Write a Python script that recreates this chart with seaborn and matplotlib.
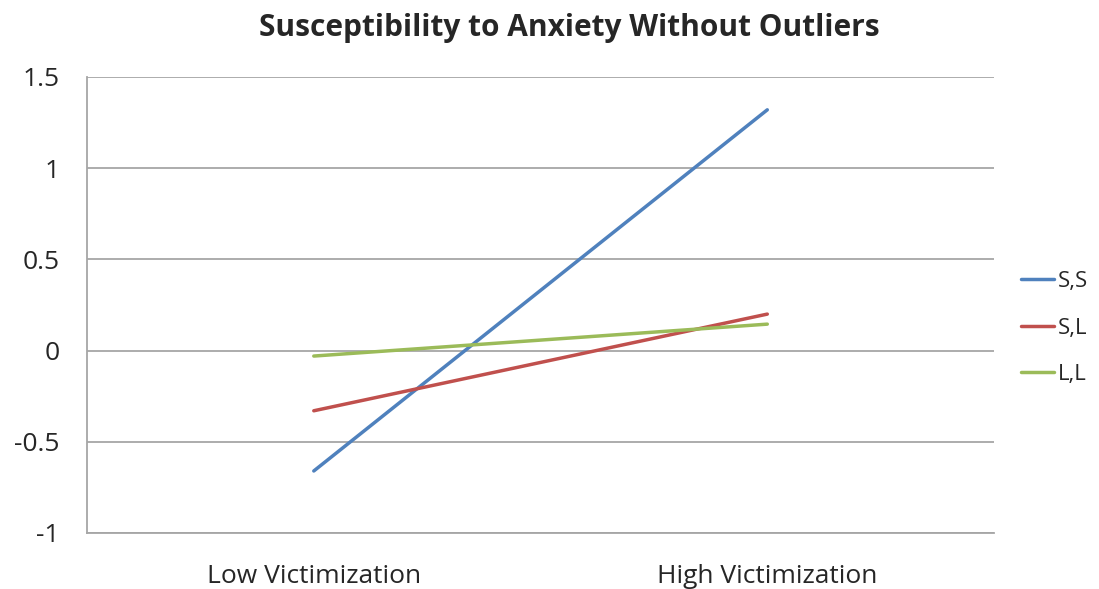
import pandas as pd
import seaborn as sns
import matplotlib.pyplot as plt

categories = ["Low Victimization", "High Victimization"]
series_names = ["S,S", "S,L", "L,L"]
ss_values = [-0.66, 1.32]
sl_values = [-0.33, 0.20]
ll_values = [-0.03, 0.145]
colors = ["#4F81BD", "#C0504D", "#9BBB59"]

rows = []
for name, vals in zip(series_names, [ss_values, sl_values, ll_values]):
    for cat, v in zip(categories, vals):
        rows.append({"Group": cat, "Score": v, "Genotype": name})
df = pd.DataFrame(rows)

sns.set_style("white")
plt.rcParams['font.family'] = ['Open Sans', 'DejaVu Sans']

fig = plt.figure(figsize=(10.99, 5.89), dpi=100)
ax = fig.add_axes([0.0792, 0.0951, 0.8253, 0.7742])

sns.lineplot(data=df, x="Group", y="Score", hue="Genotype", palette=colors,
             linewidth=2.5, sort=False, ax=ax)

ax.set_xlim(-0.5, 1.5)
ax.set_ylim(-1, 1.5)
ax.set_yticks([-1, -0.5, 0, 0.5, 1, 1.5])
ax.set_yticklabels(["-1", "-0.5", "0", "0.5", "1", "1.5"])
ax.yaxis.grid(True, color="#A6A6A6", linewidth=1.3)
ax.set_axisbelow(True)
for s in ["top", "right"]:
    ax.spines[s].set_visible(False)
ax.spines["left"].set_color("#A6A6A6")
ax.spines["bottom"].set_color("#A6A6A6")
ax.spines["left"].set_linewidth(1.3)
ax.spines["bottom"].set_linewidth(1.3)
ax.tick_params(axis="y", length=4, color="#A6A6A6", width=1.3, labelsize=19, pad=16)
ax.tick_params(axis="x", length=0, labelsize=19, pad=22)
ax.set_xlabel("")
ax.set_ylabel("")

fig.text(0.518, 0.952, "Susceptibility to Anxiety Without Outliers",
         ha="center", va="center", fontsize=21.5, fontweight="bold")

ax.legend(loc="center left", bbox_to_anchor=(0.929, 0.443), bbox_transform=fig.transFigure,
          frameon=False, fontsize=16, handlelength=1.5, handletextpad=0.15, labelspacing=1.15,
          borderaxespad=0, borderpad=0)

fig.savefig("out.png", dpi=100)
